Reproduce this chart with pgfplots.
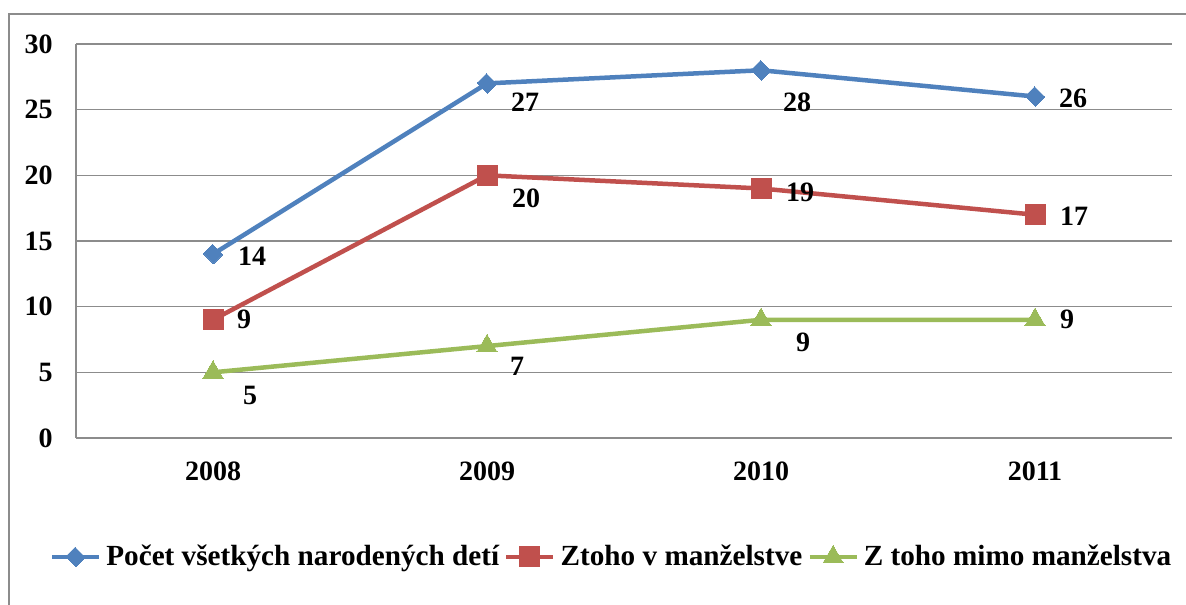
\documentclass[border=0pt]{standalone}
\usepackage{pgfplots}
\pgfplotsset{compat=1.18}
\usepackage{fontspec}
\setmainfont{Liberation Serif}
\definecolor{cblue}{HTML}{4F81BD}
\definecolor{cred}{HTML}{C0504D}
\definecolor{cgreen}{HTML}{9BBB59}
\definecolor{gridgray}{HTML}{8C8C8C}
\begin{document}
\begin{tikzpicture}
\path[use as bounding box] (0,0) rectangle (593pt,302pt);
\draw[gridgray, line width=1pt] (4.5pt,-20pt) rectangle (610pt,295pt);
\begin{axis}[
  scale only axis, width=548pt, height=197pt,
  at={(38pt,83pt)}, anchor=south west,
  xmin=-0.5, xmax=3.5, ymin=0, ymax=30,
  xtick={0,1,2,3}, xticklabels={2008,2009,2010,2011},
  ytick={0,5,10,15,20,25,30},
  axis x line*=bottom, axis y line*=left,
  axis line style={gridgray, line width=0.8pt, -},
  ymajorgrids, grid style={gridgray, line width=0.8pt},
  major tick length=0pt,
  tick label style={font=\fontsize{14}{16}\selectfont\bfseries},
  /pgf/number format/assume math mode=true,
  yticklabel style={anchor=east, inner sep=0pt, xshift=-11.5pt},
  xticklabel style={anchor=north, inner sep=0pt, yshift=-11.5pt},
  legend style={at={(0.49,-0.302)}, anchor=center, draw=none, fill=none,
    font=\fontsize{14.6}{16}\selectfont\bfseries, legend columns=3,
    /tikz/every even column/.style={column sep=0pt},
    nodes={inner xsep=2.5pt}, inner sep=0pt},
  legend cell align=left,
  legend image code/.code={\draw[mark repeat=2,mark phase=2,#1] plot coordinates {(0pt,0pt) (11.75pt,0pt) (23.5pt,0pt)};},
  nodes near coords,
  visualization depends on={value \thisrow{dx} \as \dx},
  visualization depends on={value \thisrow{dy} \as \dy},
  every node near coord/.append style={anchor=center, font=\fontsize{14}{16}\selectfont\bfseries, text=black, xshift=\dx pt, yshift=\dy pt},
  clip=false,
]
\addplot[cblue, line width=2.25pt, mark=square*, mark size=3.3pt, mark options={solid, fill=cblue, line width=0pt, rotate=45, yscale=1.1}] table {
x y dx dy
0 14 19.5 -1
1 27 19 -9.5
2 28 18 -16
3 26 19 -1
};
\addlegendentry{Počet všetkých narodených detí}
\addplot[cred, line width=2.25pt, mark=square*, mark size=5pt, mark options={solid, fill=cred, line width=0pt}] table {
x y dx dy
0 9 15.5 0
1 20 19.5 -11.5
2 19 19.5 -2
3 17 19.5 -1
};
\addlegendentry{Ztoho v manželstve}
\addplot[cgreen, line width=2.25pt, mark=triangle*, mark size=5.8pt, mark options={solid, fill=cgreen, line width=0pt}] table {
x y dx dy
0 5 18.5 -11.5
1 7 15 -10
2 9 21 -11.5
3 9 16 0
};
\addlegendentry{Z toho mimo manželstva}
\end{axis}
\end{tikzpicture}
\end{document}
